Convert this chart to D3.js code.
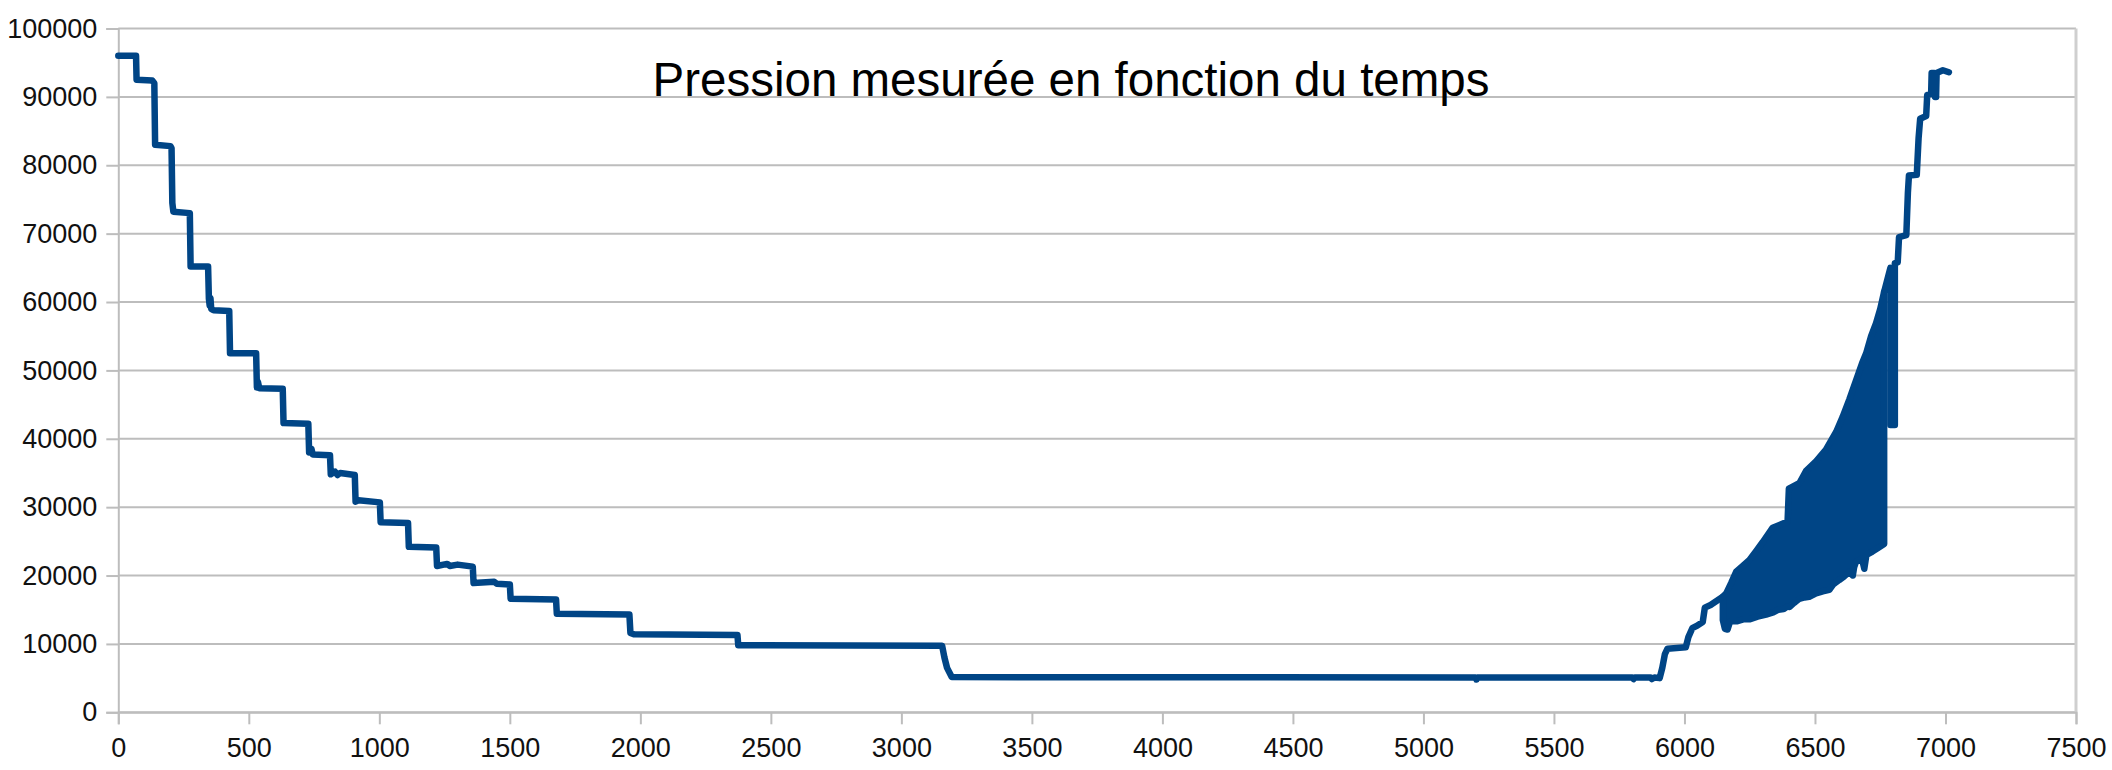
<!DOCTYPE html>
<html>
<head>
<meta charset="utf-8">
<script src="https://cdn.jsdelivr.net/npm/d3@7"></script>
<style>
  html, body { margin: 0; padding: 0; background: #fff; }
  svg { display: block; }
  text { font-family: "Liberation Sans", Arial, sans-serif; }
</style>
</head>
<body>
<svg id="chart" width="2112" height="770"></svg>
<script>
// ---------- data ----------
const chartTitle = "Pression mesurée en fonction du temps";
const xTickValues = [0, 500, 1000, 1500, 2000, 2500, 3000, 3500, 4000, 4500, 5000, 5500, 6000, 6500, 7000, 7500];
const yTickValues = [0, 10000, 20000, 30000, 40000, 50000, 60000, 70000, 80000, 90000, 100000];

// descending staircase, low plateau and first rise  [time, pressure]
const pressureBefore = [
  [0, 96000], [68, 96000], [70, 92500], [130, 92400], [138, 92000], [141, 83000],
  [200, 82800], [204, 82500], [207, 74500], [211, 73200], [274, 73000], [277, 65200],
  [344, 65200], [347, 60500], [350, 59500], [353, 60600], [356, 59000], [365, 58800],
  [425, 58700], [428, 52500], [528, 52500], [531, 47500], [535, 48300], [540, 47400],
  [630, 47300], [633, 42300], [728, 42200], [731, 38000], [740, 38500], [745, 37700],
  [811, 37600], [814, 34800], [830, 35200], [840, 34700], [850, 35000], [906, 34700],
  [909, 30800], [920, 31000], [1002, 30700], [1005, 27800], [1110, 27700], [1113, 24200],
  [1218, 24100], [1221, 21400], [1260, 21700], [1270, 21400], [1300, 21600], [1358, 21300],
  [1361, 18900], [1440, 19100], [1450, 18800], [1500, 18700], [1503, 16600], [1677, 16500],
  [1680, 14400], [1958, 14300], [1962, 11600], [1975, 11400], [2372, 11300], [2375, 9800],
  [3156, 9750], [3165, 8000], [3175, 6500], [3193, 5150], [5200, 5100], [5203, 4800],
  [5206, 5100], [5800, 5100], [5805, 4850], [5810, 5100], [5870, 5100], [5875, 4850],
  [5885, 5100], [5905, 5000], [5915, 6500], [5925, 8500], [5935, 9300], [6005, 9500],
  [6015, 11000], [6030, 12300], [6045, 12600], [6070, 13200], [6078, 15300], [6100, 15700],
  [6147, 16900]
];

// dense oscillation zone: upper and lower envelopes  [time, pressure]
const oscUpper = [
  [6147, 16900], [6160, 17400], [6180, 19000], [6198, 20560], [6220, 21300], [6249, 22270],
  [6275, 23600], [6300, 24900], [6338, 27000], [6364, 27400], [6395, 27900], [6400, 32700],
  [6420, 33100], [6440, 33500], [6466, 35300], [6504, 36700], [6542, 38400], [6581, 41000],
  [6606, 43200], [6632, 45800], [6657, 48500], [6680, 51000], [6696, 52500], [6715, 55000],
  [6734, 56900], [6750, 59000], [6765, 61500]
];
const oscLower = [
  [6147, 13500], [6155, 12200], [6165, 12100], [6175, 13300], [6200, 13300], [6225, 13600],
  [6249, 13600], [6280, 14000], [6313, 14300], [6340, 14600], [6360, 15000], [6380, 15100],
  [6395, 15500], [6402, 15400], [6420, 16000], [6440, 16600], [6460, 16800], [6478, 16900],
  [6504, 17400], [6530, 17700], [6555, 17900], [6570, 18700], [6593, 19350], [6610, 19800],
  [6632, 20560], [6645, 20000], [6650, 21200], [6657, 22000], [6680, 22500], [6689, 21000],
  [6697, 23000], [6720, 23500], [6740, 24000], [6765, 24600]
];

// after the oscillations: spike and final rise  [time, pressure]
const pressureAfter = [
  [6765, 61500], [6789, 65000], [6789, 42000], [6806, 42000], [6806, 65700], [6817, 65800],
  [6822, 69500], [6850, 69800], [6856, 76000], [6860, 78500], [6890, 78600], [6897, 84000],
  [6903, 86800], [6926, 87200], [6930, 90300], [6945, 90400], [6947, 93500], [6957, 93500],
  [6960, 90000], [6964, 90000], [6966, 93500], [6990, 93900], [7013, 93600]
];

// ---------- layout ----------
const W = 2112, H = 770;
const plotLeft = 118.3, plotRight = 2076, plotTop = 28.5, plotBottom = 712.3;
const lineColor = "#004586";
const gridColor = "#bdbdbd";
const lineWidth = 6.5;

const svg = d3.select("#chart");
svg.append("rect").attr("width", W).attr("height", H).attr("fill", "#fff");

const x = d3.scaleLinear().domain([0, 7500]).range([plotLeft, plotRight]);
const y = d3.scaleLinear().domain([0, 100000]).range([plotBottom, plotTop]);

// horizontal gridlines
svg.append("g")
  .selectAll("line")
  .data(yTickValues)
  .join("line")
  .attr("x1", plotLeft).attr("x2", plotRight)
  .attr("y1", d => y(d)).attr("y2", d => y(d))
  .attr("stroke", gridColor).attr("stroke-width", 2);

// right wall border
svg.append("line")
  .attr("x1", x(7500)).attr("x2", x(7500))
  .attr("y1", y(0)).attr("y2", y(100000))
  .attr("stroke", "#cfcfcf").attr("stroke-width", 3);

// y axis
const yAxis = svg.append("g")
  .attr("transform", `translate(${plotLeft},0)`)
  .call(d3.axisLeft(y).tickValues(yTickValues).tickSize(12).tickPadding(9).tickFormat(d3.format("d")));
yAxis.select(".domain").attr("stroke", gridColor).attr("stroke-width", 2);
yAxis.selectAll(".tick line").attr("stroke", gridColor).attr("stroke-width", 2);
yAxis.selectAll(".tick text").attr("font-size", 27).attr("fill", "#111")
  .attr("font-family", "'Liberation Sans', Arial, sans-serif");

// x axis
const xAxis = svg.append("g")
  .attr("transform", `translate(0,${plotBottom})`)
  .call(d3.axisBottom(x).tickValues(xTickValues).tickSize(12).tickPadding(14).tickFormat(d3.format("d")));
xAxis.select(".domain").attr("stroke", gridColor).attr("stroke-width", 2);
xAxis.selectAll(".tick line").attr("stroke", gridColor).attr("stroke-width", 2);
xAxis.selectAll(".tick text").attr("font-size", 27).attr("fill", "#111")
  .attr("font-family", "'Liberation Sans', Arial, sans-serif");

// series
const line = d3.line().x(d => x(d[0])).y(d => y(d[1]));

const seriesG = svg.append("g");
// dense oscillation band (upper envelope then lower envelope back)
const band = oscUpper.concat(oscLower.slice().reverse());
seriesG.append("path")
  .attr("d", line(band) + "Z")
  .attr("fill", lineColor)
  .attr("stroke", lineColor)
  .attr("stroke-width", lineWidth)
  .attr("stroke-linejoin", "round");

[pressureBefore, pressureAfter].forEach(s => {
  seriesG.append("path")
    .attr("d", line(s))
    .attr("fill", "none")
    .attr("stroke", lineColor)
    .attr("stroke-width", lineWidth)
    .attr("stroke-linejoin", "round")
    .attr("stroke-linecap", "round");
});

// title
svg.append("text")
  .attr("x", 1071).attr("y", 96)
  .attr("text-anchor", "middle")
  .attr("font-size", 47.5)
  .attr("fill", "#000")
  .text(chartTitle);
</script>
</body>
</html>
